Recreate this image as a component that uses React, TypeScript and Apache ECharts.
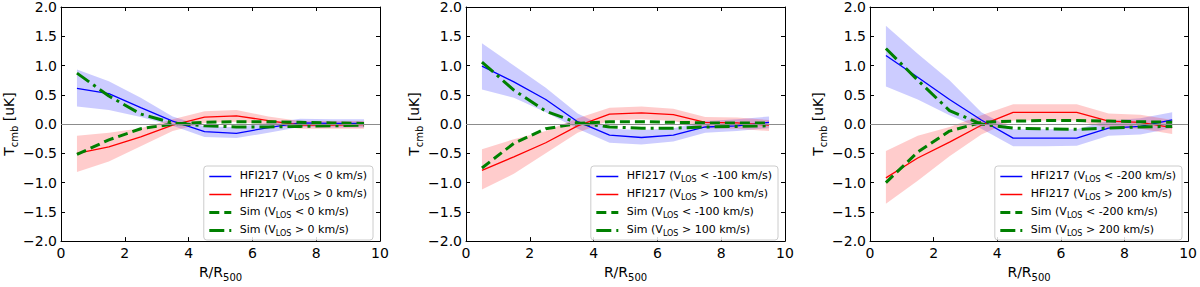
import React, { useEffect, useRef } from "react";
import * as echarts from "echarts";

// ---- data ----
const R = [0.5, 1.5, 2.5, 3.5, 4.5, 5.5, 6.5, 7.5, 8.5, 9.5];
const xTicks = [0, 2, 4, 6, 8, 10];
const yTicks = [-2.0, -1.5, -1.0, -0.5, 0.0, 0.5, 1.0, 1.5, 2.0];
const cuts = ["0", "100", "200"];

// panel 1 : |V_LOS| > 0 km/s
const hfiNeg0 = [0.61, 0.52, 0.28, 0.05, -0.13, -0.16, -0.06, 0.02, 0.01, 0.01];
const hfiNeg0Hi = [0.93, 0.73, 0.45, 0.13, -0.04, -0.05, 0.02, 0.09, 0.08, 0.08];
const hfiNeg0Lo = [0.30, 0.24, 0.12, -0.03, -0.22, -0.24, -0.15, -0.05, -0.06, -0.06];
const hfiPos0 = [-0.50, -0.39, -0.22, -0.02, 0.12, 0.14, 0.06, -0.02, -0.02, -0.01];
const hfiPos0Hi = [-0.20, -0.15, -0.07, 0.08, 0.22, 0.24, 0.13, 0.05, 0.05, 0.05];
const hfiPos0Lo = [-0.82, -0.64, -0.38, -0.12, 0.02, 0.04, -0.01, -0.08, -0.08, -0.08];
const simNeg0 = [-0.52, -0.27, -0.08, 0.00, 0.03, 0.04, 0.04, 0.03, 0.02, 0.01];
const simPos0 = [0.87, 0.48, 0.17, 0.02, -0.03, -0.05, -0.05, -0.04, -0.03, -0.02];

// panel 2 : |V_LOS| > 100 km/s
const hfiNeg100 = [0.99, 0.72, 0.42, 0.04, -0.19, -0.23, -0.19, -0.05, -0.03, 0.03];
const hfiNeg100Hi = [1.38, 1.00, 0.62, 0.18, -0.08, -0.10, -0.07, 0.05, 0.08, 0.13];
const hfiNeg100Lo = [0.59, 0.45, 0.20, -0.08, -0.32, -0.35, -0.30, -0.15, -0.12, -0.07];
const hfiPos100 = [-0.79, -0.56, -0.32, -0.03, 0.17, 0.19, 0.16, 0.03, 0.02, -0.02];
const hfiPos100Hi = [-0.43, -0.26, -0.12, 0.10, 0.28, 0.30, 0.26, 0.12, 0.11, 0.07];
const hfiPos100Lo = [-1.12, -0.85, -0.50, -0.15, 0.06, 0.08, 0.05, -0.07, -0.08, -0.12];
const simNeg100 = [-0.75, -0.33, -0.08, 0.01, 0.04, 0.04, 0.03, 0.02, 0.02, 0.02];
const simPos100 = [1.06, 0.58, 0.22, 0.02, -0.05, -0.07, -0.07, -0.05, -0.04, -0.03];

// panel 3 : |V_LOS| > 200 km/s
const hfiNeg200 = [1.17, 0.80, 0.42, 0.07, -0.24, -0.24, -0.24, -0.07, -0.04, 0.07];
const hfiNeg200Hi = [1.68, 1.20, 0.75, 0.20, -0.09, -0.09, -0.09, 0.06, 0.10, 0.20];
const hfiNeg200Lo = [0.64, 0.42, 0.15, -0.08, -0.38, -0.38, -0.37, -0.20, -0.18, -0.07];
const hfiPos200 = [-0.92, -0.58, -0.31, -0.02, 0.20, 0.20, 0.20, 0.05, 0.03, -0.06];
const hfiPos200Hi = [-0.46, -0.20, -0.05, 0.15, 0.34, 0.34, 0.34, 0.18, 0.16, 0.07];
const hfiPos200Lo = [-1.36, -0.97, -0.55, -0.18, 0.06, 0.06, 0.06, -0.07, -0.08, -0.17];
const simNeg200 = [-1.00, -0.48, -0.12, 0.03, 0.05, 0.06, 0.06, 0.05, 0.04, 0.03];
const simPos200 = [1.29, 0.75, 0.23, 0.00, -0.07, -0.08, -0.09, -0.07, -0.05, -0.04];

const panels = [
  { cut: cuts[0], neg: hfiNeg0, negHi: hfiNeg0Hi, negLo: hfiNeg0Lo, pos: hfiPos0, posHi: hfiPos0Hi, posLo: hfiPos0Lo, simNeg: simNeg0, simPos: simPos0 },
  { cut: cuts[1], neg: hfiNeg100, negHi: hfiNeg100Hi, negLo: hfiNeg100Lo, pos: hfiPos100, posHi: hfiPos100Hi, posLo: hfiPos100Lo, simNeg: simNeg100, simPos: simPos100 },
  { cut: cuts[2], neg: hfiNeg200, negHi: hfiNeg200Hi, negLo: hfiNeg200Lo, pos: hfiPos200, posHi: hfiPos200Hi, posLo: hfiPos200Lo, simNeg: simNeg200, simPos: simPos200 },
];

// ---- layout / style ----
const FONT = "DejaVu Sans";
const gridLefts = [61, 466, 870];
const GRID_TOP = 7;
const GRID_W = 319;
const GRID_H = 240;
const legendRights = [827, 422, 18];
const DASH = [10, 5];
const DASH_DOT = [15, 5, 3, 5];

const fmtY = (v: number) => (v < 0 ? "\u2212" + Math.abs(v).toFixed(1) : v.toFixed(1));

const nameRich = {
  a: { fontSize: 14, fontFamily: FONT, color: "#000", lineHeight: 16, verticalAlign: "bottom", padding: [0, 0, 3, 0] },
  s: { fontSize: 10, fontFamily: FONT, color: "#000", lineHeight: 12, verticalAlign: "bottom" },
};
const legendRich = {
  a: { fontSize: 11, fontFamily: FONT, color: "#000", lineHeight: 13, verticalAlign: "bottom", padding: [0, 0, 2, 0] },
  s: { fontSize: 8, fontFamily: FONT, color: "#000", lineHeight: 10, verticalAlign: "bottom" },
};

const legendFormatter = (name: string) => {
  const parts = name.split("VLOS");
  return `{a| ${parts[0]}V}{s|LOS}{a|${parts[1]}}`;
};

function bandSeries(p: number, hi: number[], lo: number[], fill: string) {
  return {
    type: "custom",
    xAxisIndex: 2 * p,
    yAxisIndex: 2 * p,
    silent: true,
    data: [[R[0], hi[0]]],
    renderItem: (_params: any, api: any) => {
      const upper = R.map((x, i) => api.coord([x, hi[i]]));
      const lower = R.map((x, i) => api.coord([x, lo[i]])).reverse();
      return {
        type: "polygon",
        shape: { points: upper.concat(lower) },
        style: { fill },
      };
    },
  };
}

function lineSeries(p: number, name: string, values: number[], color: string, width: number, type: any, extra: any = {}) {
  return {
    type: "line",
    name,
    xAxisIndex: 2 * p,
    yAxisIndex: 2 * p,
    data: R.map((x, i) => [x, values[i]]),
    symbol: "none",
    lineStyle: { color, width, type },
    itemStyle: { color },
    ...extra,
  };
}

function buildOption() {
  const grid: any[] = [];
  const xAxis: any[] = [];
  const yAxis: any[] = [];
  const series: any[] = [];
  const legend: any[] = [];

  panels.forEach((pd, p) => {
    grid.push({ left: gridLefts[p], top: GRID_TOP, width: GRID_W, height: GRID_H });
    const common = {
      type: "value",
      gridIndex: p,
      axisLine: { show: true, onZero: false, lineStyle: { color: "#000", width: 1 } },
      axisTick: { show: true, inside: true, length: 4, lineStyle: { color: "#000", width: 1 } },
      splitLine: { show: false },
    };
    xAxis.push({
      ...common,
      position: "bottom",
      min: xTicks[0],
      max: xTicks[xTicks.length - 1],
      interval: xTicks[1] - xTicks[0],
      axisLabel: { show: true, fontSize: 14, fontFamily: FONT, color: "#000", margin: 5, showMinLabel: true, showMaxLabel: true },
      name: "{a|R/R}{s|500}",
      nameLocation: "middle",
      nameGap: 23,
      nameTextStyle: { rich: nameRich },
    });
    xAxis.push({
      ...common,
      position: "top",
      min: xTicks[0],
      max: xTicks[xTicks.length - 1],
      interval: xTicks[1] - xTicks[0],
      axisLabel: { show: false },
    });
    yAxis.push({
      ...common,
      position: "left",
      min: yTicks[0],
      max: yTicks[yTicks.length - 1],
      interval: yTicks[1] - yTicks[0],
      axisLabel: { show: true, fontSize: 14, fontFamily: FONT, color: "#000", margin: 4, formatter: fmtY, showMinLabel: true, showMaxLabel: true },
      name: "{a|T}{s|cmb}{a| [uK]}",
      nameLocation: "middle",
      nameGap: 37,
      nameRotate: 90,
      nameTextStyle: { rich: nameRich },
    });
    yAxis.push({
      ...common,
      position: "right",
      min: yTicks[0],
      max: yTicks[yTicks.length - 1],
      interval: yTicks[1] - yTicks[0],
      axisLabel: { show: false },
    });

    const c = pd.cut;
    const nNeg = `HFI217 (VLOS < ${c === "0" ? "0" : "-" + c} km/s)`;
    const nPos = `HFI217 (VLOS > ${c} km/s)`;
    const sNeg = `Sim (VLOS < ${c === "0" ? "0" : "-" + c} km/s)`;
    const sPos = `Sim (VLOS > ${c} km/s)`;

    series.push(bandSeries(p, pd.negHi, pd.negLo, "rgba(0,0,255,0.2)"));
    series.push(bandSeries(p, pd.posHi, pd.posLo, "rgba(255,0,0,0.2)"));
    series.push(
      lineSeries(p, nNeg, pd.neg, "#0000ff", 1.3, "solid", {
        markLine: {
          silent: true,
          symbol: "none",
          label: { show: false },
          lineStyle: { color: "#8c8c8c", width: 1.2, type: "solid" },
          data: [{ yAxis: 0 }],
        },
      })
    );
    series.push(lineSeries(p, nPos, pd.pos, "#ff0000", 1.3, "solid"));
    series.push(lineSeries(p, sNeg, pd.simNeg, "#008000", 3, DASH));
    series.push(lineSeries(p, sPos, pd.simPos, "#008000", 3, DASH_DOT));

    legend.push({
      orient: "vertical",
      right: legendRights[p],
      bottom: 47,
      data: [
        { name: nNeg, lineStyle: { width: 1.5 } },
        { name: nPos, lineStyle: { width: 1.5 } },
        { name: sNeg, lineStyle: { width: 3 } },
        { name: sPos, lineStyle: { width: 3 } },
      ],
      selectedMode: false,
      itemWidth: 22,
      itemHeight: 12,
      itemGap: 5,
      padding: [4, 6, 3, 4],
      backgroundColor: "rgba(255,255,255,0.85)",
      borderColor: "#cccccc",
      borderWidth: 1,
      borderRadius: 3,
      itemStyle: { color: "rgba(0,0,0,0)", opacity: 0, borderWidth: 0 },
      formatter: legendFormatter,
      textStyle: { fontSize: 11, fontFamily: FONT, color: "#000", rich: legendRich },
    });
  });

  return { animation: false, backgroundColor: "#fff", grid, xAxis, yAxis, series, legend };
}

export default function App() {
  const ref = useRef<HTMLDivElement>(null);
  useEffect(() => {
    if (!ref.current) return;
    const chart = echarts.init(ref.current, null, { renderer: "svg" });
    chart.setOption(buildOption() as any);
    return () => chart.dispose();
  }, []);
  return (
    <div
      ref={ref}
      style={{ position: "fixed", left: 0, top: 0, width: 1200, height: 287, background: "#fff" }}
    />
  );
}
